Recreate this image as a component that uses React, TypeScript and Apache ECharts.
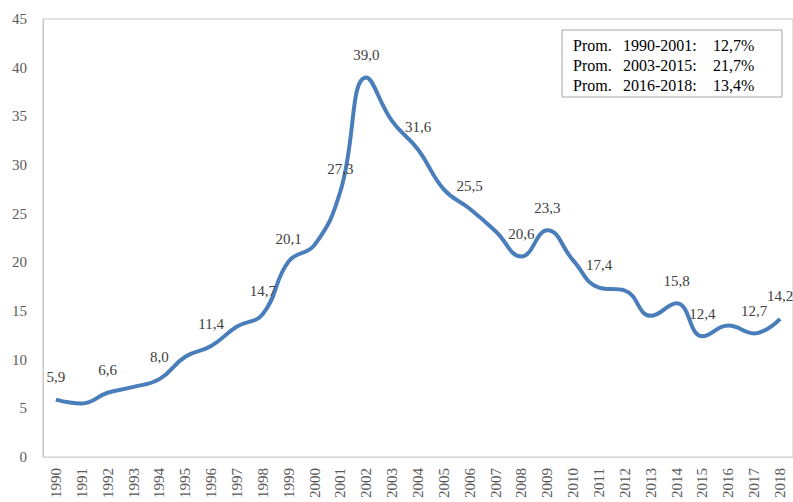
import React, { useEffect, useRef } from "react";
import * as echarts from "echarts";

const years = [
  "1990", "1991", "1992", "1993", "1994", "1995", "1996", "1997", "1998", "1999",
  "2000", "2001", "2002", "2003", "2004", "2005", "2006", "2007", "2008", "2009",
  "2010", "2011", "2012", "2013", "2014", "2015", "2016", "2017", "2018",
];
const values = [
  5.9, 5.5, 6.6, 7.2, 8.0, 10.3, 11.4, 13.4, 14.7, 20.1,
  21.8, 27.3, 39.0, 34.5, 31.6, 27.5, 25.5, 23.2, 20.6, 23.3,
  20.2, 17.4, 17.1, 14.5, 15.8, 12.4, 13.5, 12.7, 14.2,
];
const labeledYears = [
  "1990", "1992", "1994", "1996", "1998", "1999", "2001", "2002", "2004",
  "2006", "2008", "2009", "2011", "2014", "2015", "2017", "2018",
];
const yTicks = { min: 0, max: 45, interval: 5 };
const noteLabels = ["Prom.", "Prom.", "Prom."];
const notePeriods = ["1990-2001:", "2003-2015:", "2016-2018:"];
const noteValues = ["12,7%", "21,7%", "13,4%"];

const SERIF = "'Liberation Serif', 'Times New Roman', serif";

export default function App() {
  const ref = useRef<HTMLDivElement>(null);
  useEffect(() => {
    if (!ref.current) return;
    const chart = echarts.init(ref.current, undefined, { renderer: "svg" });
    const data = values.map((v, i) => ({
      value: v,
      label: { show: labeledYears.includes(years[i]) },
    }));
    const noteTexts: any[] = [];
    notePeriods.forEach((p, i) => {
      const y = 46 + i * 20;
      const common = { fill: "#000", font: `16px ${SERIF}` };
      noteTexts.push({ type: "text", left: 573, top: y - 9, style: { ...common, text: noteLabels[i] } });
      noteTexts.push({ type: "text", left: 623, top: y - 9, style: { ...common, text: p } });
      noteTexts.push({ type: "text", left: 713, top: y - 9, style: { ...common, text: noteValues[i] } });
    });
    chart.setOption({
      animation: false,
      backgroundColor: "#ffffff",
      grid: {
        left: 43,
        top: 19,
        width: 751,
        height: 438,
        show: true,
        borderColor: "#c8c8c8",
        borderWidth: 1,
      },
      xAxis: {
        type: "category",
        data: years,
        boundaryGap: true,
        axisLine: { show: true, lineStyle: { color: "#d9d9d9" } },
        axisTick: { show: false },
        axisLabel: {
          rotate: 90,
          interval: 0,
          margin: 11,
          color: "#595959",
          fontSize: 15,
          fontFamily: SERIF,
        },
        splitLine: { show: false },
      },
      yAxis: {
        type: "value",
        min: yTicks.min,
        max: yTicks.max,
        interval: yTicks.interval,
        axisLine: { show: true, lineStyle: { color: "#c8c8c8" } },
        axisTick: { show: false },
        axisLabel: {
          margin: 16,
          color: "#595959",
          fontSize: 15,
          fontFamily: SERIF,
        },
        splitLine: { show: false },
      },
      series: [
        {
          type: "line",
          data,
          smooth: 0.45,
          symbol: "circle",
          symbolSize: 2,
          showSymbol: true,
          showAllSymbol: true,
          itemStyle: { color: "rgba(74,126,187,0)", borderWidth: 0 },
          lineStyle: { color: "#4a7ebb", width: 4 },
          label: {
            show: true,
            position: "top",
            distance: 14,
            color: "#404040",
            fontSize: 15,
            fontFamily: SERIF,
            formatter: (p: any) => Number(p.value).toFixed(1).replace(".", ","),
          },
          labelLayout: { hideOverlap: false },
        },
      ],
      graphic: [
        {
          type: "rect",
          shape: { x: 562, y: 30, width: 220, height: 67 },
          style: { fill: "#ffffff", stroke: "#a6a6a6", lineWidth: 1 },
          z: 10,
        },
        ...noteTexts.map((t) => ({ ...t, z: 11 })),
      ],
    });
    return () => chart.dispose();
  }, []);
  return (
    <div
      ref={ref}
      style={{ position: "absolute", left: 0, top: 0, width: 793, height: 502 }}
    />
  );
}
